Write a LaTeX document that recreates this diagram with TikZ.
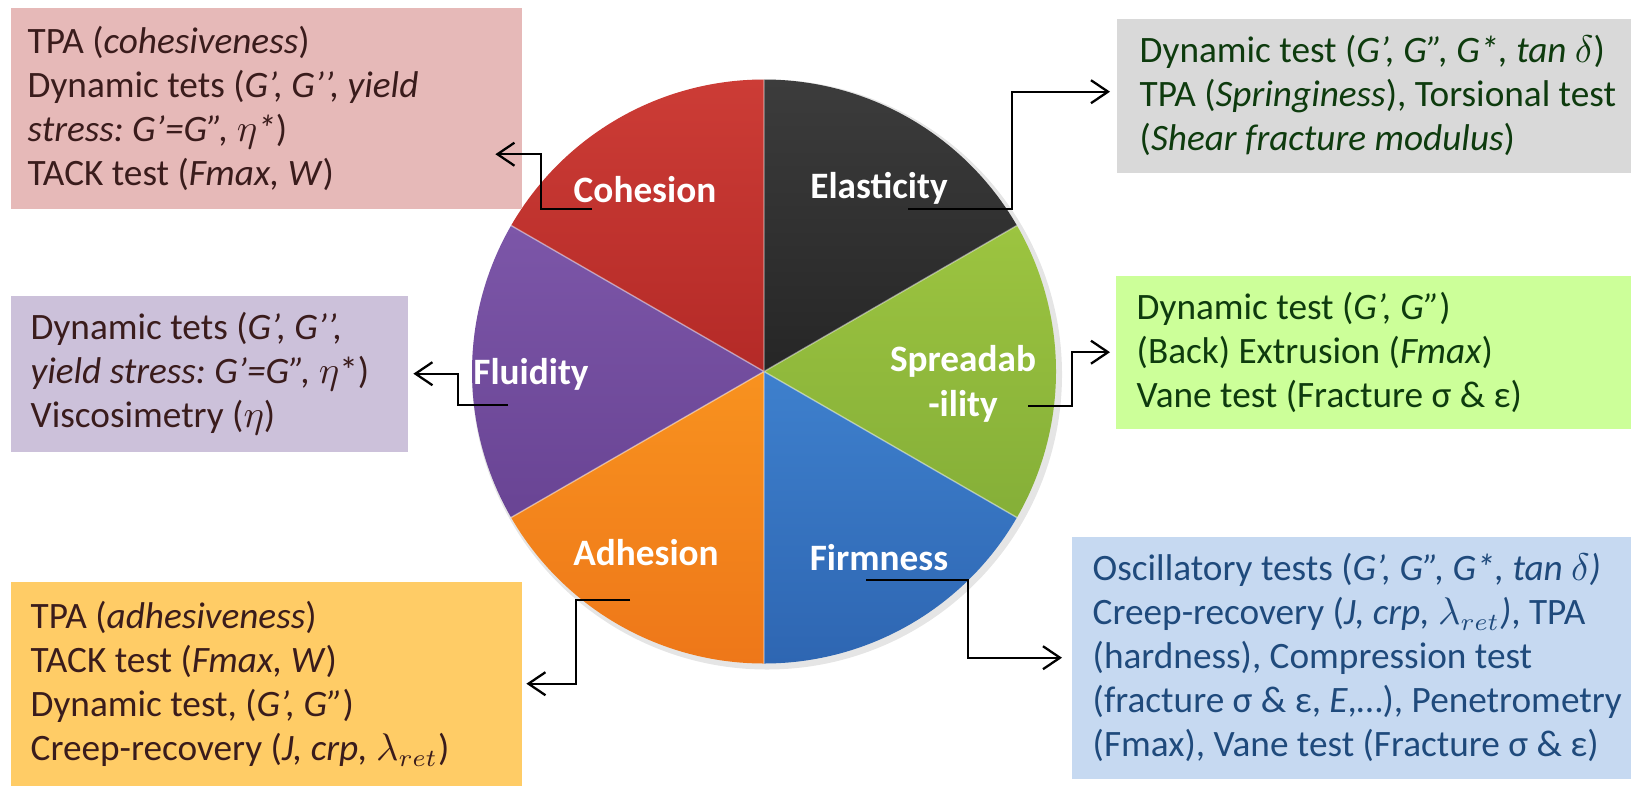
\documentclass[tikz,border=0pt]{standalone}
\usepackage{fontspec}
\setmainfont{Carlito}
\usepackage{tikz}
\usetikzlibrary{arrows.meta, positioning, calc}
\usepackage{xcolor}
\frenchspacing
\definecolor{pcohA}{HTML}{CC3C36}
\definecolor{pcohB}{HTML}{B42A27}
\definecolor{pelaA}{HTML}{3C3C3C}
\definecolor{pelaB}{HTML}{262626}
\definecolor{psprA}{HTML}{9CC440}
\definecolor{psprB}{HTML}{85AF38}
\definecolor{pfirA}{HTML}{3E80CD}
\definecolor{pfirB}{HTML}{2E66B2}
\definecolor{padhA}{HTML}{F8921F}
\definecolor{padhB}{HTML}{EE7719}
\definecolor{pfluA}{HTML}{7C56A8}
\definecolor{pfluB}{HTML}{694494}
\definecolor{bpink}{HTML}{E6B9B8}
\definecolor{bgrey}{HTML}{D9D9D9}
\definecolor{bpurple}{HTML}{CCC1DA}
\definecolor{bgreen}{HTML}{CCFF99}
\definecolor{bblue}{HTML}{C6D9F1}
\definecolor{byellow}{HTML}{FFCC66}
\definecolor{tbrown}{HTML}{3A1C1C}
\definecolor{tgreen}{HTML}{0E3B0E}
\definecolor{tblue}{HTML}{1F4A7C}
\tikzset{
  boxbg/.style={anchor=north west, inner sep=0pt},
  boxtxt/.style={anchor=west, inner sep=0pt, align=left,
                 font=\fontsize{10.6}{12.5}\selectfont},
  pielbl/.style={text=white, align=center, font=\fontsize{10.6}{12.8}\selectfont\bfseries},
  sep/.style={white, opacity=0.45, line width=0.4pt},
  arr/.style={-{Straight Barb[length=1.7mm, width=2.3mm]}, line width=0.65pt, black},
}
\begin{document}
\begin{tikzpicture}

  \useasboundingbox (0,0) rectangle (16.35,-7.85);

  %% Pie
  \coordinate (pc) at (7.64,-3.715);
  \fill[black, opacity=0.10] ([shift={(0.03,-0.03)}]pc) circle (2.95);
  \shade[top color=pcohA, bottom color=pcohB] (pc) -- ++(90:2.92) arc[start angle=90, end angle=150, radius=2.92] -- cycle;
  \shade[top color=pfluA, bottom color=pfluB] (pc) -- ++(150:2.92) arc[start angle=150, end angle=210, radius=2.92] -- cycle;
  \shade[top color=padhA, bottom color=padhB] (pc) -- ++(210:2.92) arc[start angle=210, end angle=270, radius=2.92] -- cycle;
  \shade[top color=pfirA, bottom color=pfirB] (pc) -- ++(270:2.92) arc[start angle=270, end angle=330, radius=2.92] -- cycle;
  \shade[top color=psprA, bottom color=psprB] (pc) -- ++(-30:2.92) arc[start angle=-30, end angle=30, radius=2.92] -- cycle;
  \shade[top color=pelaA, bottom color=pelaB] (pc) -- ++(30:2.92) arc[start angle=30, end angle=90, radius=2.92] -- cycle;
  \draw[sep] (pc) -- ++(90:2.92) (pc) -- ++(150:2.92) (pc) -- ++(210:2.92)
             (pc) -- ++(270:2.92) (pc) -- ++(330:2.92) (pc) -- ++(30:2.92);

  %% Pie labels
  \node[pielbl] (coh) at (6.45,-1.90) {Cohesion};
  \node[pielbl] (ela) at (8.79,-1.88) {Elasticity};
  \node[pielbl] (flu) at (5.31,-3.74) {Fluidity};
  \node[pielbl] (spr) at (9.63,-3.84) {Spreadab\\-ility};
  \node[pielbl] (adh) at (6.46,-5.53) {Adhesion};
  \node[pielbl] (fir) at (8.79,-5.58) {Firmness};

  %% Test boxes
  \node[boxbg, fill=bpink, minimum width=5.11cm, minimum height=2.01cm] (cohBox) at (0.10,-0.07) {};
  \node[boxtxt, text=tbrown] (cohText) at ([xshift=1.7mm]cohBox.west)
    {TPA (\textit{cohesiveness})\\Dynamic tets (\textit{G’, G’’, yield}\\\textit{stress: G’=G”, }$\eta$\textit{*})\\TACK test (\textit{Fmax, W})};

  \node[boxbg, fill=bgrey, minimum width=5.14cm, minimum height=1.54cm] (elaBox) at (11.16,-0.18) {};
  \node[boxtxt, text=tgreen] (elaText) at ([xshift=2.3mm]elaBox.west)
    {Dynamic test (\textit{G’, G”, G*, tan }$\delta$)\\TPA (\textit{Springiness}), Torsional test\\(\textit{Shear fracture modulus})};

  \node[boxbg, fill=bpurple, minimum width=3.97cm, minimum height=1.56cm] (fluBox) at (0.10,-2.95) {};
  \node[boxtxt, text=tbrown] (fluText) at ([xshift=2mm]fluBox.west)
    {Dynamic tets (\textit{G’, G’’,}\\\textit{yield stress: G’=G”, }$\eta$*)\\Viscosimetry ($\eta$)};

  \node[boxbg, fill=bgreen, minimum width=5.15cm, minimum height=1.53cm] (sprBox) at (11.15,-2.75) {};
  \node[boxtxt, text=tgreen] (sprText) at ([xshift=2.1mm]sprBox.west)
    {Dynamic test (\textit{G’, G”})\\(Back) Extrusion (\textit{Fmax})\\Vane test (Fracture σ \& ε)};

  \node[boxbg, fill=byellow, minimum width=5.11cm, minimum height=2.04cm] (adhBox) at (0.10,-5.81) {};
  \node[boxtxt, text=tbrown] (adhText) at ([xshift=2mm]adhBox.west)
    {TPA (\textit{adhesiveness})\\TACK test (\textit{Fmax, W})\\Dynamic test, (\textit{G’, G”})\\Creep-recovery (\textit{J, crp, }$\lambda_{ret}$)};

  \node[boxbg, fill=bblue, minimum width=5.59cm, minimum height=2.42cm] (firBox) at (10.71,-5.36) {};
  \node[boxtxt, text=tblue] (firText) at ([xshift=2.1mm]firBox.west)
    {Oscillatory tests (\textit{G’, G”, G*, tan }$\delta$\textit{)}\\Creep-recovery (\textit{J, crp, }$\lambda_{ret}$\textit{)}, TPA\\(hardness), Compression test\\(fracture σ \& ε, \textit{E},…), Penetrometry\\(Fmax), Vane test (Fracture σ \& ε)};

  %% Connectors
  \coordinate (cohStart) at (5.92,-2.09);
  \coordinate (elaStart) at (9.08,-2.09);
  \coordinate (fluStart) at (5.08,-4.05);
  \coordinate (sprStart) at (10.28,-4.06);
  \coordinate (adhStart) at (6.30,-6.00);
  \coordinate (firStart) at (8.66,-5.80);

  \draw[arr] (cohStart) -- ++(-0.51,0) |- ([xshift=-2.7mm, yshift=-4.6mm]cohBox.east);
  \draw[arr] (elaStart) -- ++(1.04,0) |- ([xshift=-0.6mm, yshift=0.4mm]elaBox.west);
  \draw[arr] (fluStart) -- ++(-0.50,0) |- ([xshift=0.5mm]fluBox.east);
  \draw[arr] (sprStart) -- ++(0.44,0) |- ([xshift=-0.5mm]sprBox.west);
  \draw[arr] (adhStart) -- ++(-0.54,0) |- ([xshift=0.4mm]adhBox.east);
  \draw[arr] (firStart) -- ++(1.02,0) |- ([xshift=-0.9mm]firBox.west);

\end{tikzpicture}
\end{document}
